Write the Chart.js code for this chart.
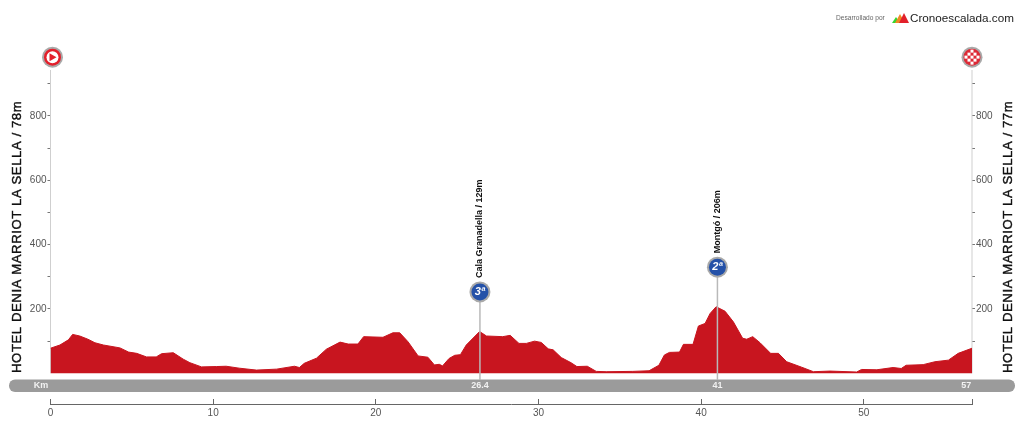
<!DOCTYPE html>
<html>
<head>
<meta charset="utf-8">
<title>Perfil de etapa</title>
<script src="https://cdn.jsdelivr.net/npm/chart.js@4/dist/chart.umd.min.js"></script>
<style>
    html, body { margin: 0; padding: 0; background: #fff; }
    #wrap { position: relative; width: 1024px; height: 429px; }
    canvas { filter: blur(0.45px); }
</style>
</head>
<body>
<div id="wrap"><canvas id="profileChart"></canvas></div>
<script>
// Profile: km and metres
const kms = [0, 0.58, 1.1, 1.36, 1.8, 2.3, 2.73, 3.25, 4.27, 4.8, 5.3, 5.9, 6.5, 6.83, 7.55, 8.16, 8.57, 9.28, 10.2, 10.8, 11.6, 12.66, 13.9, 15.0, 15.3, 15.6, 16.35, 16.96, 17.8, 18.3, 18.9, 19.25, 20.44, 21.05, 21.47, 21.98, 22.6, 23.2, 23.6, 23.9, 24.1, 24.5, 24.85, 25.2, 25.56, 26.38, 26.8, 27.8, 28.26, 28.8, 29.25, 29.76, 30.17, 30.6, 30.9, 31.4, 32.0, 32.36, 33.0, 33.55, 34.16, 35.8, 36.8, 37.4, 37.74, 38.05, 38.67, 38.91, 39.5, 39.83, 40.24, 40.55, 40.92, 41.47, 41.98, 42.55, 42.8, 43.17, 43.62, 44.27, 44.75, 45.26, 46.18, 46.9, 47.92, 49.56, 49.86, 50.8, 51.8, 52.3, 52.6, 53.65, 54.37, 55.2, 55.8, 56.65];
const elevations = [78, 88, 104, 121, 116, 106, 95, 88, 79, 66, 62, 51, 51, 61, 64, 44, 33, 20, 21, 22, 16, 10, 13, 22, 18, 31, 47, 75, 97, 91, 91, 114, 112, 126, 126, 98, 54, 50, 26, 28, 23, 46, 56, 58, 88, 130, 116, 114, 118, 93, 93, 100, 96, 76, 73, 49, 33, 21, 22, 6, 5, 6, 8, 25, 57, 65, 66, 90, 90, 147, 155, 186, 207, 193, 160, 109, 106, 114, 95, 62, 62, 36, 19, 5, 7, 4, 12, 11, 18, 15, 25, 27, 36, 41, 62, 78];

const xTicks = [0, 10, 20, 30, 40, 50, 56.65];
const yTicks = [100, 200, 300, 400, 500, 600, 700, 800, 900];
const yLabels = [200, 400, 600, 800];

const passKms = [26.4, 41];
const passMarks = ['3ª', '2ª'];
const passNames = ['Cala Granadella / 129m', 'Montgó / 206m'];
const passMarkElev = [253, 330];

const bandLabels = [['26.4', 26.4], ['41', 41], ['57', 56.3]];
const startTitle = 'HOTEL DENIA MARRIOT LA SELLA / 78m';
const finishTitle = 'HOTEL DENIA MARRIOT LA SELLA / 77m';

const FONT = '"Liberation Sans", Arial, sans-serif';

function badge(ctx, x, y, fill) {
    ctx.beginPath();
    ctx.arc(x, y, 10.5, 0, Math.PI * 2);
    ctx.fillStyle = '#a9a9a9';
    ctx.fill();
    ctx.beginPath();
    ctx.arc(x, y, 8.5, 0, Math.PI * 2);
    ctx.fillStyle = fill;
    ctx.fill();
}

function verticalText(ctx, text, x, y, font, color, spacing, weight) {
    ctx.save();
    ctx.translate(x, y);
    ctx.rotate(-Math.PI / 2);
    ctx.font = font;
    ctx.letterSpacing = spacing || '0px';
    ctx.fillStyle = color;
    ctx.textAlign = 'left';
    ctx.textBaseline = 'middle';
    ctx.fillText(text, 0, 0);
    if (weight) {
        ctx.strokeStyle = color;
        ctx.lineWidth = weight;
        ctx.strokeText(text, 0, 0);
    }
    ctx.restore();
}

// Everything around the profile: grey band, side rules, pass markers, titles, logo
const decorations = {
    id: 'decorations',
    beforeDatasetsDraw(chart) {
        const { ctx, scales } = chart;
        const x = scales.x, y = scales.y;
        ctx.save();
        ctx.fillStyle = '#9b9b9b';
        ctx.beginPath();
        ctx.roundRect(9, 379.5, 1006, 12.5, 6);
        ctx.fill();

        ctx.strokeStyle = '#cfcfcf';
        ctx.lineWidth = 1;
        ctx.beginPath();
        ctx.moveTo(x.left, 70);
        ctx.lineTo(x.left, y.getPixelForValue(0));
        ctx.moveTo(x.right, 70);
        ctx.lineTo(x.right, y.getPixelForValue(0));
        ctx.stroke();
        ctx.restore();
    },
    afterDatasetsDraw(chart) {
        const { ctx, scales } = chart;
        const x = scales.x, y = scales.y;
        ctx.save();

        // passes
        passKms.forEach((km, i) => {
            const px = x.getPixelForValue(km);
            const py = y.getPixelForValue(passMarkElev[i]);
            ctx.strokeStyle = '#b9b9b9';
            ctx.lineWidth = 1.5;
            ctx.beginPath();
            ctx.moveTo(px, 380);
            ctx.lineTo(px, py);
            ctx.stroke();
            badge(ctx, px, py, '#2451a8');
            ctx.fillStyle = '#fff';
            ctx.font = 'bold italic 11px ' + FONT;
            ctx.textAlign = 'center';
            ctx.textBaseline = 'middle';
            ctx.fillText(passMarks[i], px, py);
            verticalText(ctx, passNames[i], px, py - 14, 'bold 9px ' + FONT, '#111');
        });

        // band labels
        ctx.fillStyle = '#f2f2f2';
        ctx.font = 'bold 9px ' + FONT;
        ctx.textAlign = 'center';
        ctx.textBaseline = 'middle';
        ctx.fillText('Km', 41, 386);
        bandLabels.forEach(([label, km]) => {
            ctx.fillText(label, x.getPixelForValue(km), 386);
        });

        // start and finish marks
        const markY = y.getPixelForValue(983);
        badge(ctx, x.left + 2, markY, '#e3202c');
        ctx.fillStyle = '#fff';
        ctx.beginPath();
        ctx.arc(x.left + 2, markY, 6, 0, Math.PI * 2);
        ctx.fill();
        ctx.fillStyle = '#e3202c';
        ctx.beginPath();
        ctx.moveTo(x.left - 1, markY - 4);
        ctx.lineTo(x.left + 6, markY);
        ctx.lineTo(x.left - 1, markY + 4);
        ctx.closePath();
        ctx.fill();

        badge(ctx, x.right, markY, '#dd2a36');
        ctx.fillStyle = '#fff';
        for (let row = -2; row <= 2; row++) {
            for (let col = -2; col <= 2; col++) {
                if ((row + col) % 2 === 0 && Math.hypot(row, col) < 2.5) {
                    ctx.fillRect(x.right + col * 3 - 1.5, markY + row * 3 - 1.5, 3, 3);
                }
            }
        }

        // side titles
        verticalText(ctx, startTitle, 17.5, 373, '13.2px ' + FONT, '#111', '0.55px', 0.4);
        verticalText(ctx, finishTitle, 1008.5, 373, '13.2px ' + FONT, '#111', '0.55px', 0.4);

        // logo
        ctx.textAlign = 'left';
        ctx.textBaseline = 'middle';
        ctx.fillStyle = '#666';
        ctx.font = '6.6px ' + FONT;
        ctx.fillText('Desarrollado por', 836, 18.5);
        ctx.fillStyle = '#222';
        ctx.font = '11.7px ' + FONT;
        ctx.fillText('Cronoescalada.com', 910, 18.5);
        [['#35d62f', 892, 896, 900, 17], ['#f08a24', 895, 900, 905, 14], ['#e2202a', 899, 904, 909, 13]].forEach(t => {
            ctx.fillStyle = t[0];
            ctx.beginPath();
            ctx.moveTo(t[1], 23);
            ctx.lineTo(t[2], t[4]);
            ctx.lineTo(t[3], 23);
            ctx.closePath();
            ctx.fill();
        });
        ctx.restore();
    }
};

const yAxis = (position, width) => ({
    type: 'linear',
    position,
    min: -95.4,
    max: 943,
    border: { display: false },
    grid: { drawOnChartArea: false, drawTicks: true, tickLength: 3, color: '#777' },
    ticks: {
        padding: 1,
        color: '#555',
        font: { family: FONT, size: 10 },
        autoSkip: false,
        callback: value => yLabels.includes(value) ? String(value) : ''
    },
    afterBuildTicks: axis => { axis.ticks = yTicks.map(value => ({ value })); },
    afterFit: axis => { axis.width = width; }
});

const ctx = document.getElementById('profileChart').getContext('2d');
new Chart(ctx, {
    type: 'line',
    data: {
        datasets: [{
            data: kms.map((km, i) => ({ x: km, y: elevations[i] })),
            yAxisID: 'y',
            fill: 'origin',
            backgroundColor: '#c8151f',
            borderColor: '#c8151f',
            borderWidth: 1,
            pointRadius: 0,
            tension: 0
        }]
    },
    options: {
        responsive: true,
        maintainAspectRatio: false,
        animation: false,
        layout: { padding: { top: 70, left: 0, right: 0, bottom: 0 } },
        plugins: { legend: { display: false }, tooltip: { enabled: false } },
        scales: {
            x: {
                type: 'linear',
                min: 0,
                max: 56.65,
                border: { display: true, color: '#666', width: 1 },
                grid: { drawOnChartArea: false, drawTicks: true, tickLength: -5, color: '#666' },
                ticks: {
                    padding: 8,
                    maxRotation: 0,
                    autoSkip: false,
                    color: '#555',
                    font: { family: FONT, size: 10 },
                    callback: value => value === 56.65 ? '' : String(value)
                },
                afterBuildTicks: axis => { axis.ticks = xTicks.map(value => ({ value })); },
                afterFit: axis => { axis.height = 25; }
            },
            y: yAxis('left', 50.5),
            yRight: yAxis('right', 52)
        }
    },
    plugins: [decorations]
});
</script>
</body>
</html>
